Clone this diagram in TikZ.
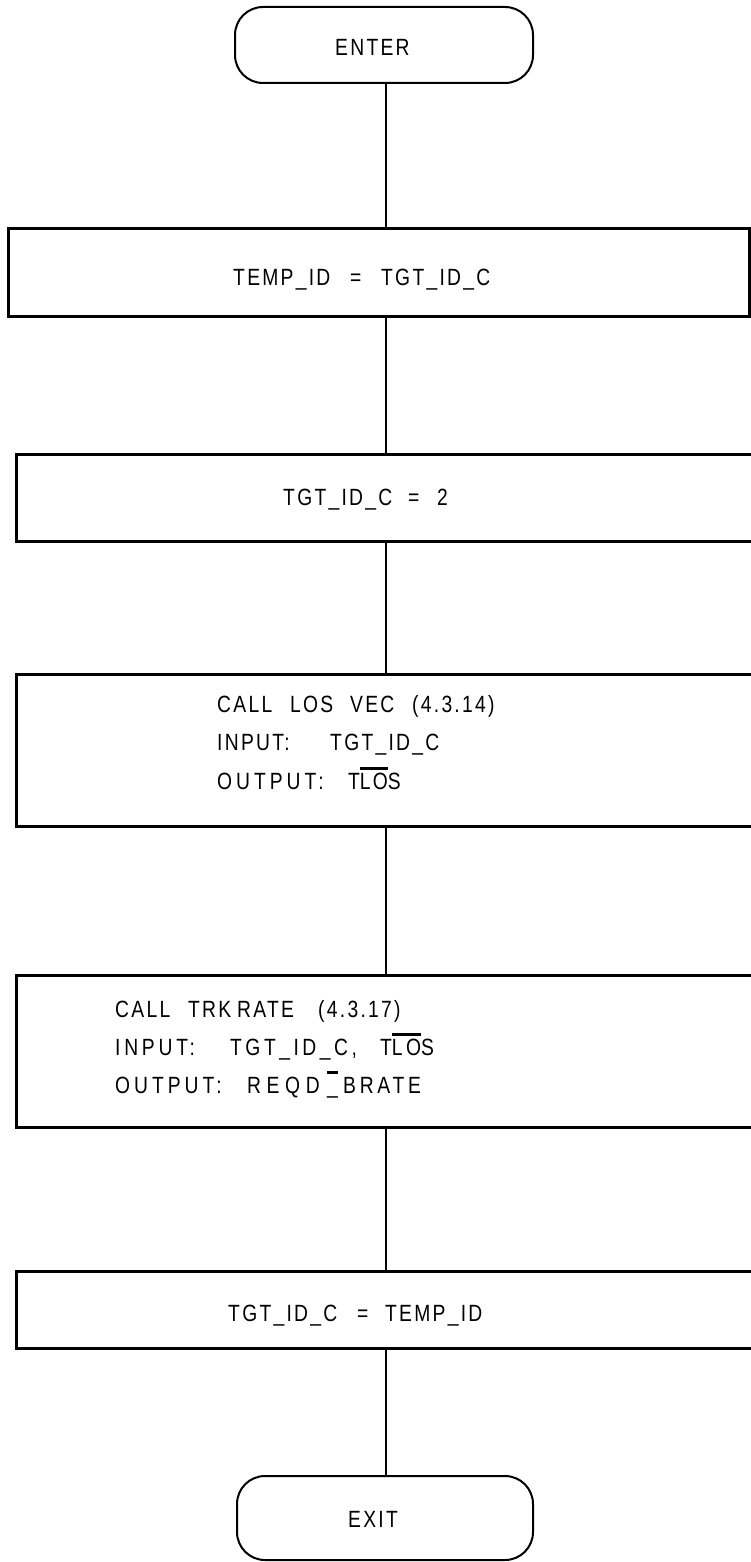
\documentclass[tikz,border=0pt]{standalone}
\usepackage{fontspec}
\setmainfont{Liberation Sans}[FakeStretch=0.82,LetterSpace=9.7]
\newcommand\ovl[1]{\setbox0\hbox{#1}\rlap{\raisebox{19.5pt}{\rule{\wd0}{3pt}}}\box0}
\newcommand\wb[2]{\makebox[#1][l]{#2}}
\newcommand\ls[2]{{\addfontfeatures{LetterSpace=#1}#2}}
\begin{document}
\begin{tikzpicture}[x=1pt,y=-1pt,
  term/.style={draw, line width=2pt, rounded corners=28pt, inner sep=0pt},
  proc/.style={draw, line width=3pt, inner sep=0pt},
  txt/.style={inner sep=0pt, anchor=base west, font=\fontsize{23.5}{28}\selectfont},
  link/.style={line width=2.5pt}]
\useasboundingbox (0,0) rectangle (751,1562);
\clip (0,0) rectangle (751,1562);
\coordinate (sp) at (386,0);
% shapes
\node[term, minimum width=298pt, minimum height=76pt] (enter) at (384,45) {};
\node[proc, minimum width=741pt, minimum height=87pt] (b1) at (378.5,272.5) {};
\node[proc, minimum width=764pt, minimum height=87pt] (b2) at (398,497.5) {};
\node[proc, minimum width=764pt, minimum height=152pt] (b3) at (398,750) {};
\node[proc, minimum width=764pt, minimum height=152pt] (b4) at (398,1051) {};
\node[proc, minimum width=764pt, minimum height=77pt] (b5) at (398,1309.5) {};
\node[term, minimum width=296pt, minimum height=84pt] (exit) at (385,1518) {};
% connectors
\draw[link] (enter.south -| sp) -- (b1.north -| sp);
\draw[link] (b1.south -| sp) -- (b2.north -| sp);
\draw[link] (b2.south -| sp) -- (b3.north -| sp);
\draw[link] (b3.south -| sp) -- (b4.north -| sp);
\draw[link] (b4.south -| sp) -- (b5.north -| sp);
\draw[link] (b5.south -| sp) -- (exit.north -| sp);
% texts
\node[txt] (tenter) at (335,56) {ENTER};
\node[txt] (t1) at (233,285) {\wb{117pt}{TEMP\_ID}\wb{31pt}{=}TGT\_ID\_C};
\node[txt] (t2) at (283,505) {\wb{125pt}{TGT\_ID\_C}\wb{29pt}{=}2};
\node[txt] (t3a) at (217,712) {\wb{73pt}{CALL}\wb{60pt}{LOS}\wb{62pt}{VEC}(4.3.14)};
\node[txt] (t3b) at (217,750) {\wb{113pt}{INPUT:}TGT\_ID\_C};
\node[txt] (t3c) at (217,789) {\wb{131pt}{\ls{17}{OUTPUT:}}T\ovl{LO}S};
\node[txt] (t4a) at (115,1017) {\wb{73pt}{CALL}\wb{49pt}{TRK}\wb{81pt}{RATE}(4.3.17)};
\node[txt] (t4b) at (115,1055) {\wb{115pt}{\ls{16}{INPUT:}}\wb{150pt}{\ls{15}{TGT\_ID\_C,}}\ls{15}{T\ovl{LO}S}};
\node[txt] (t4c) at (115,1093) {\wb{132pt}{\ls{17}{OUTPUT:}}\wb{80pt}{\ls{24}{REQD}}\wb{16pt}{\ovl{\_}}\ls{16}{BRATE}};
\node[txt] (t5) at (228,1321) {\wb{129pt}{TGT\_ID\_C}\wb{28pt}{=}TEMP\_ID};
\node[txt] (texit) at (348,1527) {EXIT};
\end{tikzpicture}
\end{document}
